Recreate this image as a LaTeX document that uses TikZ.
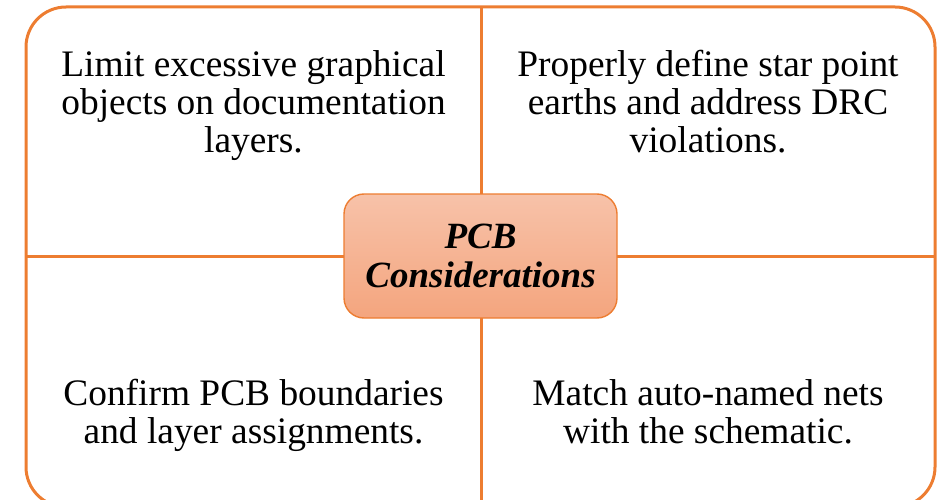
\documentclass[tikz,border=0pt]{standalone}
\usepackage{fontspec}
\setmainfont{Liberation Serif}
\definecolor{accent}{HTML}{ED7D31}
\definecolor{boxtop}{RGB}{247,194,169}
\definecolor{boxbot}{RGB}{244,165,126}
\tikzset{
  frame/.style={draw=accent, line width=3pt, rounded corners=40pt},
  divider/.style={draw=accent, line width=3pt},
  hub/.style={draw=accent, line width=1.4pt, rounded corners=20pt,
    top color=boxtop, bottom color=boxbot},
  quad/.style={align=center, inner sep=0pt, anchor=base,
    font=\fontsize{37.4}{38}\selectfont},
  hubtext/.style={align=center, inner sep=0pt, anchor=base,
    font=\fontsize{37}{39}\selectfont\bfseries\itshape}
}
\begin{document}
\begin{tikzpicture}[x=1pt, y=-1pt]
  \useasboundingbox (0,0) rectangle (939,500);
  % outer frame and quadrant dividers
  \draw[frame] (26,7) rectangle (935,507);
  \coordinate (top) at (481,7);
  \coordinate (bottom) at (481,505);
  \coordinate (left) at (26,256);
  \coordinate (right) at (935,256);
  \draw[divider] (top) -- (bottom);
  \draw[divider] (left) -- (right);
  % central box
  \path[hub] (344,194) rectangle (617,318);
  % multi-line nodes: base anchor sits on the last line's baseline
  \node[hubtext] (hub) at (480.5,287) {PCB\\Considerations};
  % quadrant texts
  \node[quad] (tl) at (253.5,152) {Limit excessive graphical\\objects on documentation\\layers.};
  \node[quad] (tr) at (708,152) {Properly define star point\\earths and address DRC\\violations.};
  \node[quad] (bl) at (253.5,443) {Confirm PCB boundaries\\and layer assignments.};
  \node[quad] (br) at (708,443) {Match auto-named nets\\with the schematic.};
\end{tikzpicture}
\end{document}
